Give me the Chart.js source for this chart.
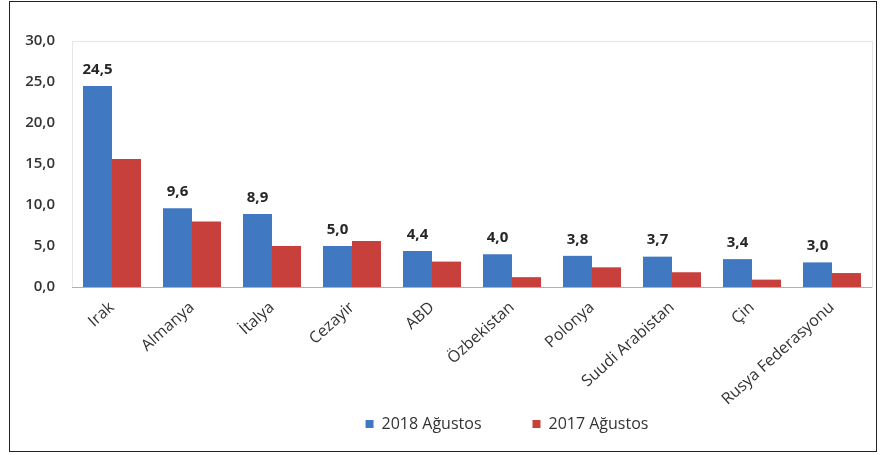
<!DOCTYPE html>
<html>
<head>
<meta charset="utf-8">
<script src="https://cdn.jsdelivr.net/npm/chart.js"></script>
<style>
  html, body { margin: 0; padding: 0; background: #fff; }
  #wrap { position: relative; width: 880px; height: 455px; }
  #frame { position: absolute; left: 9px; top: 1px; width: 866px; height: 449px; border: 1.5px solid #222; pointer-events: none; }
</style>
</head>
<body>
<div id="wrap">
  <canvas id="myChart" width="880" height="455"></canvas>
  <div id="frame"></div>
</div>
<script>
// Ülkeler ve değerler
const categories = ['Irak', 'Almanya', 'İtalya', 'Cezayir', 'ABD', 'Özbekistan', 'Polonya', 'Suudi Arabistan', 'Çin', 'Rusya Federasyonu'];
const values2018 = [24.5, 9.6, 8.9, 5.0, 4.4, 4.0, 3.8, 3.7, 3.4, 3.0];
const values2017 = [15.6, 8.0, 5.0, 5.6, 3.1, 1.2, 2.4, 1.8, 0.9, 1.7];
const seriesNames = ['2018 Ağustos', '2017 Ağustos'];

const fmt = v => v.toFixed(1).replace('.', ',');
const FONT = 'Open Sans, Liberation Sans, sans-serif';

// Mavi sütunların üstüne değer yaz
const barLabels = {
  id: 'barLabels',
  afterDatasetsDraw(chart) {
    const ctx = chart.ctx;
    const meta = chart.getDatasetMeta(0);
    ctx.save();
    ctx.font = 'bold 15px ' + FONT;
    ctx.fillStyle = '#262626';
    ctx.textAlign = 'center';
    ctx.textBaseline = 'bottom';
    meta.data.forEach((bar, i) => {
      ctx.fillText(fmt(values2018[i]), bar.x, bar.y - 9);
    });
    ctx.restore();
  }
};

// Çizim alanı çerçevesi
const areaBorder = {
  id: 'areaBorder',
  beforeDatasetsDraw(chart) {
    const a = chart.chartArea;
    const ctx = chart.ctx;
    ctx.save();
    ctx.strokeStyle = '#e6e6e6';
    ctx.lineWidth = 1;
    ctx.strokeRect(a.left + 0.5, a.top + 0.5, a.right - a.left, a.bottom - a.top);
    ctx.strokeStyle = '#b0b0b0';
    ctx.beginPath();
    ctx.moveTo(a.left, a.bottom + 0.5);
    ctx.lineTo(a.right, a.bottom + 0.5);
    ctx.stroke();
    ctx.restore();
  }
};

// Lejantı sağa/yukarı kaydır, eksen etiketleri kesilmesin
const moveLegend = {
  id: 'moveLegend',
  afterLayout(chart) {
    const lg = chart.legend;
    const h = lg.bottom - lg.top;
    lg.left += 71; lg.right += 71;
    lg.top = 365; lg.bottom = 365 + h;
    chart.scales.x.bottom = chart.height;
  }
};

const ctx = document.getElementById('myChart').getContext('2d');
new Chart(ctx, {
  type: 'bar',
  data: {
    labels: categories,
    datasets: [
      { label: seriesNames[0], data: values2018, backgroundColor: '#4178C2' },
      { label: seriesNames[1], data: values2017, backgroundColor: '#C7403C' }
    ]
  },
  options: {
    responsive: false,
    animation: false,
    layout: { padding: { top: 41, right: 8, bottom: 0, left: 0 } },
    datasets: { bar: { categoryPercentage: 0.725, barPercentage: 1.0 } },
    plugins: {
      legend: {
        position: 'bottom',
        labels: {
          boxWidth: 8, boxHeight: 8, padding: 51,
          color: '#333',
          font: { family: FONT, size: 16 }
        }
      },
      tooltip: { enabled: false }
    },
    scales: {
      x: {
        grid: { display: false },
        border: { display: false },
        ticks: {
          autoSkip: false, maxRotation: 42, minRotation: 42,
          color: '#333', padding: 3,
          font: { family: FONT, size: 16 }
        },
        afterFit(scale) { scale.height = 91; }
      },
      y: {
        min: 0, max: 30,
        grid: { display: false },
        border: { display: false },
        ticks: {
          stepSize: 5, padding: 9,
          color: '#333',
          font: { family: FONT, size: 15, weight: '600' },
          callback: v => fmt(v)
        },
        afterFit(scale) { scale.width = 72; }
      }
    }
  },
  plugins: [areaBorder, barLabels, moveLegend]
});
</script>
</body>
</html>
